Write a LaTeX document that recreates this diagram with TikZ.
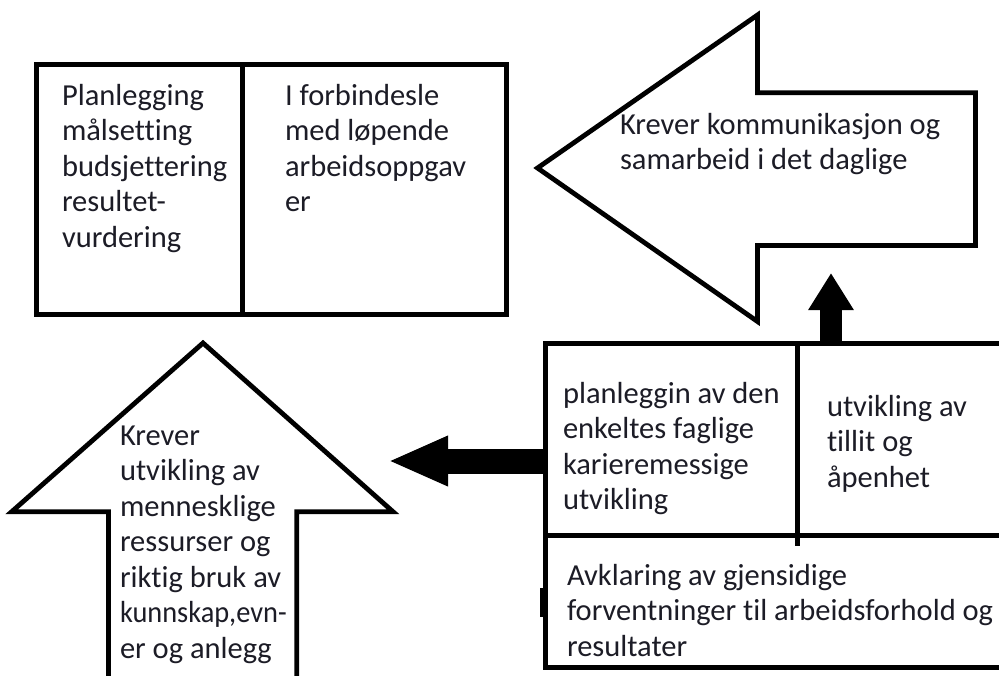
\documentclass[tikz,border=0pt]{standalone}
\usepackage{fontspec}
\usepackage{graphicx}
\setmainfont{Carlito}[Ligatures=NoCommon]
\usetikzlibrary{arrows.meta}
\definecolor{txt}{RGB}{28,28,38}
\tikzset{
  boxline/.style={draw=black, line width=5pt, outer sep=0pt, inner sep=0pt, anchor=north west},
  outline/.style={draw=black, line width=4.8pt, fill=white, line join=miter},
  divider/.style={draw=black, line width=5pt},
  label/.style={anchor=north west, inner sep=0pt, outer sep=0pt, align=left, text=txt,
    font=\fontsize{30.5}{35.5}\selectfont},
  fatup/.style={line width=22pt, -{Triangle[length=37pt,width=43pt]}},
  fatleft/.style={line width=25pt, -{Triangle[length=60pt,width=46pt]}}
}
\newcommand{\firstline}{\rule{0pt}{25pt}}
\begin{document}
\begin{tikzpicture}[x=1pt,y=-1pt]
\fill[white] (0,0) rectangle (999,675);
\useasboundingbox (0,0) rectangle (999,675);

% top-left box
\node[boxline, minimum width=470pt, minimum height=250pt] (tl) at (36.5,64.5) {};
\draw[divider] (242.5,0 |- tl.north) -- (242.5,0 |- tl.south);
\node[label] (tlA) at (62,80) {\firstline Planlegging\\målsetting\\budsjettering\\resultet-\\vurdering};
\node[label] (tlB) at (285,80) {\firstline I forbindesle\\med løpende\\arbeidsoppgav\\er};

% big left-pointing arrow
\draw[outline] (537.5,168) -- (757.5,15) -- (757.5,92.8) -- (975.5,92.8) -- (975.5,245.5)
  -- (757.5,245.5) -- (757.5,321.5) -- cycle;
\node[label] (arrA) at (620,109) {\firstline Krever kommunikasjon og\\samarbeid i det daglige};

% big up-pointing arrow
\draw[outline] (203,343) -- (393,511.7) -- (296.8,511.7) -- (296.8,690) -- (108.5,690)
  -- (108.5,511.7) -- (11.7,511.7) -- cycle;
\node[label] (arrB) at (120,420) {\firstline Krever\\utvikling av\\mennesklige\\ressurser og\\riktig bruk av\\\scalebox{0.93}[1]{kunnskap,evn-}\\er og anlegg};

% bottom-right box
\node[boxline, minimum width=470pt, minimum height=324pt] (br) at (545.5,343.5) {};
\draw[divider] (br.west |- 0,535.5) -- (br.east |- 0,535.5);
\draw[divider] (797.5,0 |- br.north) -- (797.5,546);
\fill[black] (540,588) rectangle (543.5,617);
\node[label] (brA) at (563,378) {\firstline planleggin av den\\enkeltes faglige\\karieremessige\\utvikling};
\node[label] (brB) at (827,391) {\firstline utvikling av\\tillit og\\åpenhet};
\node[label] (brC) at (567,560) {\firstline Avklaring av gjensidige\\forventninger til arbeidsforhold og\\resultater};

% fat connectors
\coordinate (upTip) at (831,273);
\coordinate (leftTip) at (388,461);
\draw[fatup] (upTip |- br.north) -- (upTip);
\draw[fatleft] (br.west |- leftTip) -- (leftTip);
\end{tikzpicture}
\end{document}
